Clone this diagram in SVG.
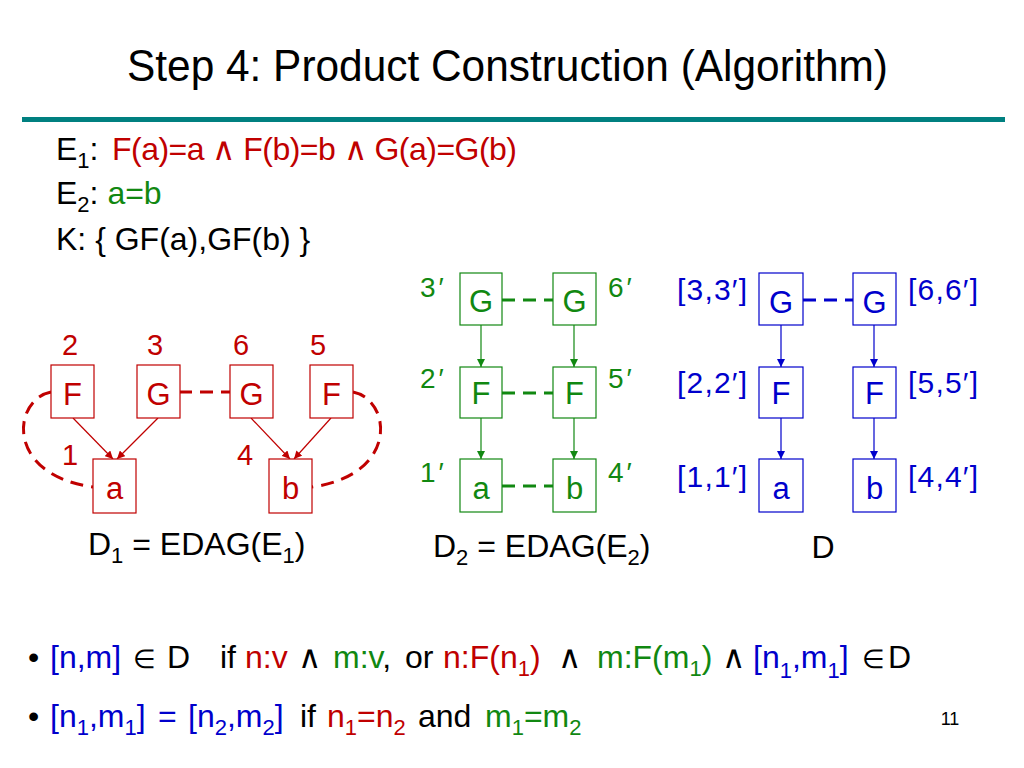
<svg xmlns="http://www.w3.org/2000/svg" width="1024" height="768" viewBox="0 0 1024 768">
<style>
text{font-family:"Liberation Sans",Arial,sans-serif;fill:#000}
.t{font-size:32px}
.r{fill:#c00000}.g{fill:#118811}.b{fill:#0000cc}
.sub{font-size:22px}
.el{font-size:26px}
.box{fill:#fff;stroke-width:1.2}
.br{stroke:#c00000}.bg{stroke:#118811}.bb{stroke:#0000cc}
.lab{font-size:30px}
.pl{font-size:28px}
.dl{font-size:29px;text-anchor:middle}
.nl{font-size:31px;text-anchor:middle}
.dash{fill:none;stroke-width:3;stroke-dasharray:13 8}
.arr{fill:none;stroke-width:1.2}
</style>
<defs>
<marker id="mr" markerWidth="8" markerHeight="8" refX="8" refY="4" orient="auto" markerUnits="userSpaceOnUse"><path d="M0,0 L8,4 L0,8 z" fill="#c00000"/></marker>
<marker id="mg" markerWidth="8" markerHeight="8" refX="8" refY="4" orient="auto" markerUnits="userSpaceOnUse"><path d="M0,0 L8,4 L0,8 z" fill="#118811"/></marker>
<marker id="mb" markerWidth="8" markerHeight="8" refX="8" refY="4" orient="auto" markerUnits="userSpaceOnUse"><path d="M0,0 L8,4 L0,8 z" fill="#0000cc"/></marker>
</defs>
<rect width="1024" height="768" fill="#fff"/>
<text x="127" y="81" font-size="44" textLength="761" lengthAdjust="spacingAndGlyphs">Step 4: Product Construction (Algorithm)</text>
<rect x="22" y="117" width="983" height="5" fill="#008080"/>

<g id="definitions" class="t">
<text x="56" y="160">E<tspan class="sub" dy="8">1</tspan><tspan dy="-8">:</tspan><tspan class="r" x="112" textLength="405">F(a)=a ∧ F(b)=b ∧ G(a)=G(b)</tspan></text>
<text x="56" y="204">E<tspan class="sub" dy="8">2</tspan><tspan dy="-8">: </tspan><tspan class="g">a=b</tspan></text>
<text x="56" y="250">K: { GF(a),GF(b) }</text>
</g>

<g id="connectors">
<line class="arr br" x1="73" y1="418" x2="113" y2="459" marker-end="url(#mr)"/>
<line class="arr br" x1="158" y1="418" x2="117" y2="459" marker-end="url(#mr)"/>
<line class="arr br" x1="251" y1="418" x2="290" y2="459" marker-end="url(#mr)"/>
<line class="arr br" x1="331" y1="418" x2="294" y2="459" marker-end="url(#mr)"/>
<line class="dash br" x1="179" y1="392" x2="230" y2="392"/>
<path class="dash br" d="M51,392 C12,400 5,475 93,487"/>
<path class="dash br" d="M353,392 C392,400 399,475 312,487"/>

<line class="arr bg" x1="481" y1="325" x2="481" y2="367" marker-end="url(#mg)"/>
<line class="arr bg" x1="574" y1="325" x2="574" y2="367" marker-end="url(#mg)"/>
<line class="arr bg" x1="481" y1="418" x2="481" y2="459" marker-end="url(#mg)"/>
<line class="arr bg" x1="574" y1="418" x2="574" y2="459" marker-end="url(#mg)"/>
<line class="dash bg" x1="502" y1="300" x2="553" y2="300"/>
<line class="dash bg" x1="502" y1="393" x2="553" y2="393"/>
<line class="dash bg" x1="502" y1="486" x2="553" y2="486"/>

<line class="arr bb" x1="781" y1="325" x2="781" y2="367" marker-end="url(#mb)"/>
<line class="arr bb" x1="874" y1="325" x2="874" y2="367" marker-end="url(#mb)"/>
<line class="arr bb" x1="781" y1="418" x2="781" y2="459" marker-end="url(#mb)"/>
<line class="arr bb" x1="874" y1="418" x2="874" y2="459" marker-end="url(#mb)"/>
<line class="dash bb" x1="803" y1="300" x2="853" y2="300"/>
</g>

<!-- D1 -->
<g id="d1-F2"><rect class="box br" x="51" y="365" width="43" height="53"/><text class="nl r" x="72.5" y="405">F</text><text class="dl r" x="70" y="355">2</text></g>
<g id="d1-G3"><rect class="box br" x="137" y="365" width="43" height="53"/><text class="nl r" x="158.5" y="405">G</text><text class="dl r" x="155" y="355">3</text></g>
<g id="d1-G6"><rect class="box br" x="230" y="365" width="43" height="53"/><text class="nl r" x="251.5" y="405">G</text><text class="dl r" x="241" y="355">6</text></g>
<g id="d1-F5"><rect class="box br" x="310" y="365" width="43" height="53"/><text class="nl r" x="331.5" y="405">F</text><text class="dl r" x="318" y="355">5</text></g>
<g id="d1-a1"><rect class="box br" x="93" y="459" width="43" height="54"/><text class="nl r" x="114.5" y="499">a</text><text class="dl r" x="70" y="465">1</text></g>
<g id="d1-b4"><rect class="box br" x="269" y="459" width="43" height="54"/><text class="nl r" x="290.5" y="499">b</text><text class="dl r" x="245" y="465">4</text></g>
<text class="t" x="88" y="555">D<tspan class="sub" dy="8">1</tspan><tspan dy="-8"> = EDAG(E</tspan><tspan class="sub" dy="8">1</tspan><tspan dy="-8">)</tspan></text>

<!-- D2 -->
<g id="d2-G3"><rect class="box bg" x="460" y="273" width="42" height="52"/><text class="nl g" x="481" y="312">G</text><text class="pl g" x="420" y="297">3<tspan dx="3">′</tspan></text></g>
<g id="d2-G6"><rect class="box bg" x="553" y="273" width="43" height="52"/><text class="nl g" x="574.5" y="312">G</text><text class="pl g" x="608" y="297">6<tspan dx="3">′</tspan></text></g>
<g id="d2-F2"><rect class="box bg" x="460" y="367" width="42" height="51"/><text class="nl g" x="481" y="404">F</text><text class="pl g" x="420" y="388">2<tspan dx="3">′</tspan></text></g>
<g id="d2-F5"><rect class="box bg" x="553" y="367" width="43" height="51"/><text class="nl g" x="574.5" y="404">F</text><text class="pl g" x="608" y="388">5<tspan dx="3">′</tspan></text></g>
<g id="d2-a1"><rect class="box bg" x="460" y="459" width="42" height="53"/><text class="nl g" x="481" y="499">a</text><text class="pl g" x="420" y="482">1<tspan dx="3">′</tspan></text></g>
<g id="d2-b4"><rect class="box bg" x="553" y="459" width="43" height="53"/><text class="nl g" x="574.5" y="499">b</text><text class="pl g" x="608" y="482">4<tspan dx="3">′</tspan></text></g>
<text class="t" x="433" y="557">D<tspan class="sub" dy="8">2</tspan><tspan dy="-8"> = EDAG(E</tspan><tspan class="sub" dy="8">2</tspan><tspan dy="-8">)</tspan></text>

<!-- D -->
<g id="d-G33"><rect class="box bb" x="759" y="273" width="44" height="52"/><text class="nl b" x="781" y="313">G</text><text class="lab b" x="677" y="300" textLength="70">[3,3′]</text></g>
<g id="d-G66"><rect class="box bb" x="853" y="273" width="43" height="52"/><text class="nl b" x="874.5" y="313">G</text><text class="lab b" x="908" y="300" textLength="70">[6,6′]</text></g>
<g id="d-F22"><rect class="box bb" x="759" y="367" width="44" height="51"/><text class="nl b" x="781" y="404">F</text><text class="lab b" x="677" y="393" textLength="70">[2,2′]</text></g>
<g id="d-F55"><rect class="box bb" x="853" y="367" width="43" height="51"/><text class="nl b" x="874.5" y="404">F</text><text class="lab b" x="908" y="393" textLength="70">[5,5′]</text></g>
<g id="d-a11"><rect class="box bb" x="759" y="459" width="44" height="53"/><text class="nl b" x="781" y="499">a</text><text class="lab b" x="677" y="487" textLength="70">[1,1′]</text></g>
<g id="d-b44"><rect class="box bb" x="853" y="459" width="43" height="53"/><text class="nl b" x="874.5" y="499">b</text><text class="lab b" x="908" y="487" textLength="70">[4,4′]</text></g>
<text class="t" x="823" y="558" text-anchor="middle">D</text>

<g id="bullets" class="t">
<text y="668"><tspan x="28">•</tspan><tspan class="b" x="50">[n,m]</tspan><tspan class="el" x="133">∈</tspan><tspan x="167">D</tspan><tspan x="220">if</tspan><tspan class="r" x="245">n:v</tspan><tspan x="298">∧</tspan><tspan class="g" x="333">m:v</tspan>,<tspan x="405">or</tspan><tspan class="r" x="443">n:F(n<tspan class="sub" dy="8">1</tspan><tspan dy="-8">)</tspan></tspan><tspan x="558">∧</tspan><tspan class="g" x="597">m:F(m<tspan class="sub" dy="8">1</tspan><tspan dy="-8">)</tspan></tspan><tspan x="722">∧</tspan><tspan class="b" x="753">[n<tspan class="sub" dy="10">1</tspan><tspan dy="-10">,m</tspan><tspan class="sub" dy="10">1</tspan><tspan dy="-10">]</tspan></tspan><tspan class="el" x="862">∈</tspan><tspan x="888">D</tspan></text>
<text y="727"><tspan x="28">•</tspan><tspan class="b" x="50">[n<tspan class="sub" dy="8">1</tspan><tspan dy="-8">,m</tspan><tspan class="sub" dy="8">1</tspan><tspan dy="-8">]</tspan></tspan><tspan class="b" x="158">=</tspan><tspan class="b" x="188">[n<tspan class="sub" dy="8">2</tspan><tspan dy="-8">,m</tspan><tspan class="sub" dy="8">2</tspan><tspan dy="-8">]</tspan></tspan><tspan x="300">if</tspan><tspan class="r" x="327">n<tspan class="sub" dy="8">1</tspan><tspan dy="-8">=n</tspan><tspan class="sub" dy="8">2</tspan></tspan><tspan dy="-8" x="418">and</tspan><tspan class="g" x="485">m<tspan class="sub" dy="8">1</tspan><tspan dy="-8">=m</tspan><tspan class="sub" dy="8">2</tspan></tspan></text>
</g>
<text x="950" y="725" font-size="18" text-anchor="middle">11</text>
</svg>
